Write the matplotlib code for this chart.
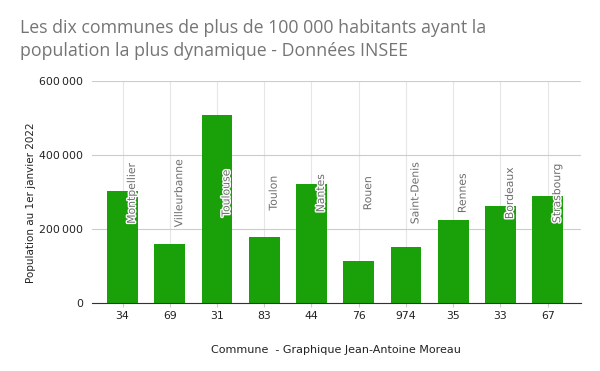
import numpy as np
import matplotlib.pyplot as plt
import matplotlib.patheffects as pe

# data
codes = ['34', '69', '31', '83', '44', '76', '974', '35', '33', '67']
villes = ['Montpellier', 'Villeurbanne', 'Toulouse', 'Toulon', 'Nantes',
          'Rouen', 'Saint-Denis', 'Rennes', 'Bordeaux', 'Strasbourg']
population = [302500, 159500, 508000, 178500, 321500,
              113500, 151500, 224500, 262000, 289000]

yticks = [0, 200000, 400000, 600000]

fig = plt.figure(figsize=(6, 3.71), dpi=100)
ax = fig.add_axes([0.153, 0.183, 0.815, 0.599])

x = np.arange(len(codes))
ax.bar(x, population, width=0.65, color='#1aa008', zorder=3)

# city labels, rotated, with a white halo over the bars
for i, v in enumerate(villes):
    ax.text(i + 0.2, 297000, v, rotation=90, ha='center', va='center',
            fontsize=7.8, color='#6e6e6e', zorder=4,
            path_effects=[pe.withStroke(linewidth=2, foreground='white')])

ax.set_xlim(-0.65, 9.7)
ax.set_ylim(0, 600000)
ax.set_xticks(x)
ax.set_xticklabels(codes, fontsize=7.8, color='#222222')
ax.set_yticks(yticks)
ax.set_yticklabels([f'{t:,}'.replace(',', '\u2009') for t in yticks],
                   fontsize=7.8, color='#222222')
ax.tick_params(axis='y', length=0, pad=6)
ax.tick_params(axis='x', length=3, color='#cccccc', pad=3)

ax.grid(axis='y', color='#cccccc', linewidth=0.8, zorder=0)
ax.grid(axis='x', color='#e6e6e6', linewidth=0.8, zorder=0)
for s in ['top', 'right', 'left']:
    ax.spines[s].set_visible(False)
ax.spines['bottom'].set_color('#333333')
ax.spines['bottom'].set_zorder(5)

ax.set_ylabel('Population au 1er janvier 2022', fontsize=7.5, color='#222222')
ax.yaxis.set_label_coords(-0.115, 0.45)
ax.set_xlabel('Commune  - Graphique Jean-Antoine Moreau', fontsize=8,
              color='#222222')
ax.xaxis.set_label_coords(0.5, -0.19)

fig.text(0.033, 0.95, 'Les dix communes de plus de 100 000 habitants ayant la\n'
         'population la plus dynamique - Données INSEE',
         fontsize=12.8, family='Open Sans', color='#757575', va='top',
         linespacing=1.4)

fig.savefig('out.png', dpi=100)
